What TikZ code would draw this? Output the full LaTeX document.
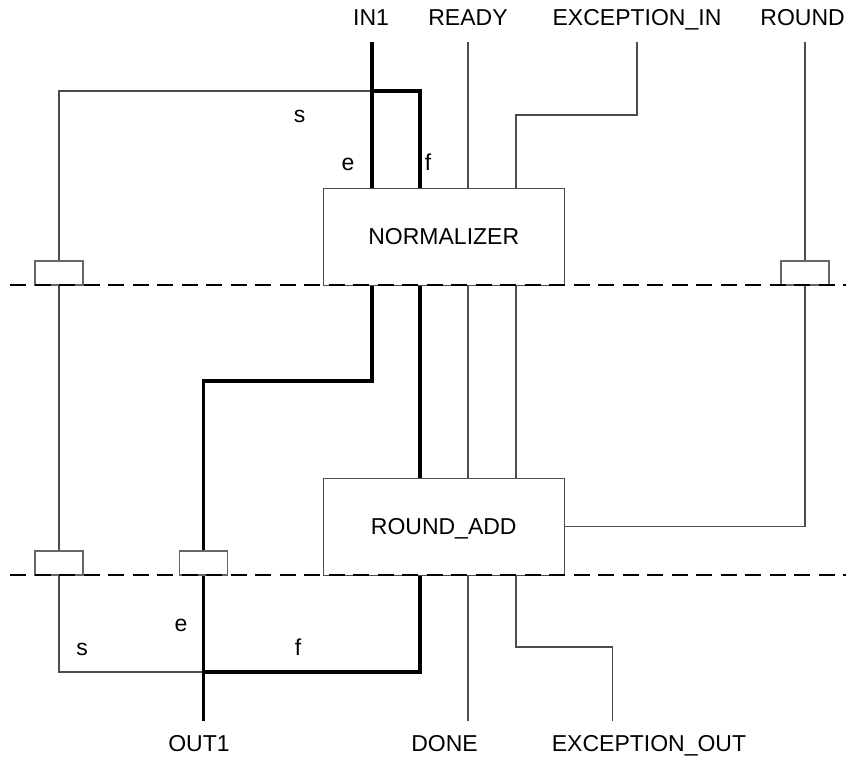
\documentclass[tikz,border=0pt]{standalone}
\usepackage{fontspec}
\setmainfont{Liberation Sans}
\newcommand{\lab}{\fontsize{23}{27}\selectfont}
\begin{document}
\begin{tikzpicture}[x=1pt,y=-1pt,
  wire/.style={line width=1.2pt, draw=black!70},
  bus/.style={line width=3.5pt, draw=black},
  blk/.style={draw=black!70, line width=1.2pt, minimum width=241pt, minimum height=97pt, inner sep=0pt, text depth=0pt, font=\lab},
  reg/.style={draw=black!60, line width=1.2pt, minimum width=48pt, minimum height=24pt, inner sep=0pt, fill=white},
  lbl/.style={font=\lab, anchor=base, inner sep=0pt},
  sep/.style={line width=2pt, draw=black, dash pattern=on 16pt off 8.5pt}
]
\useasboundingbox (0,0) rectangle (846,759);

% blocks
\node[blk] (norm) at (443.75,236.75) {NORMALIZER};
\node[blk] (radd) at (443.75,526.75) {ROUND\_ADD};

% registers
\node[reg] (r1) at (59,273) {};
\node[reg] (r2) at (805,273) {};
\node[reg] (r3) at (59,563) {};
\node[reg] (r4) at (203.5,563) {};

% port labels
\node[lbl] (tIN) at (371,26) {IN1};
\node[lbl] (tRDY) at (468,26) {READY};
\node[lbl] (tEXI) at (637,26) {EXCEPTION\_IN};
\node[lbl, anchor=base east] (tRND) at (845,26) {ROUND};
\node[lbl] (bOUT) at (199,751) {OUT1};
\node[lbl] (bDONE) at (444.5,751) {DONE};
\node[lbl] (bEXO) at (649,751) {EXCEPTION\_OUT};

% field labels
\node[lbl] (ls1) at (299.5,123) {s};
\node[lbl] (le1) at (348,171) {e};
\node[lbl] (lf1) at (428,171) {f};
\node[lbl] (ls2) at (82,655) {s};
\node[lbl] (le2) at (181,631.5) {e};
\node[lbl] (lf2) at (298,655) {f};

% pin coordinates
\coordinate (pIN) at (372,42);
\coordinate (pRDY) at (468,42);
\coordinate (pEXI) at (637,42);
\coordinate (pRND) at (805,42);
\coordinate (pOUT) at (203.5,721);
\coordinate (pDONE) at (468,721);
\coordinate (pEXO) at (612.5,721);
\coordinate (fTop) at (420,91);
\coordinate (exiK) at (516,115);
\coordinate (mK) at (372,381);
\coordinate (bK) at (420,672);
\coordinate (exoK) at (516,647);

% top section
\draw[wire] (r1.north) |- (pIN |- fTop);
\draw[bus] (pIN) -- (pIN |- norm.north);
\draw[bus] (pIN |- fTop) -- (fTop) -- (fTop |- norm.north);
\draw[wire] (pRDY) -- (pRDY |- norm.north);
\draw[wire] (pEXI) |- (exiK) -- (exiK |- norm.north);
\draw[wire] (pRND) -- (r2.north);

% middle section
\draw[wire] (r1.south) -- (r3.north);
\draw[bus] (pIN |- norm.south) -- (mK) -| (r4.north);
\draw[bus] (fTop |- norm.south) -- (fTop |- radd.north);
\draw[wire] (pRDY |- norm.south) -- (pRDY |- radd.north);
\draw[wire] (exiK |- norm.south) -- (exiK |- radd.north);
\draw[wire] (r2.south) |- (radd.east);

% bottom section
\draw[wire] (r3.south) |- (pOUT |- bK);
\draw[bus] (r4.south) -- (pOUT);
\draw[bus] (fTop |- radd.south) -- (bK) -- (pOUT |- bK);
\draw[wire] (pDONE |- radd.south) -- (pDONE);
\draw[wire] (exiK |- radd.south) -- (exoK) -| (pEXO);

% pipeline stage separators
\coordinate (d1a) at (10,285);
\coordinate (d1b) at (846,285);
\coordinate (d2a) at (10,575);
\coordinate (d2b) at (846,575);
\draw[sep] (d1a) -- (d1b);
\draw[sep] (d2a) -- (d2b);
\end{tikzpicture}
\end{document}
